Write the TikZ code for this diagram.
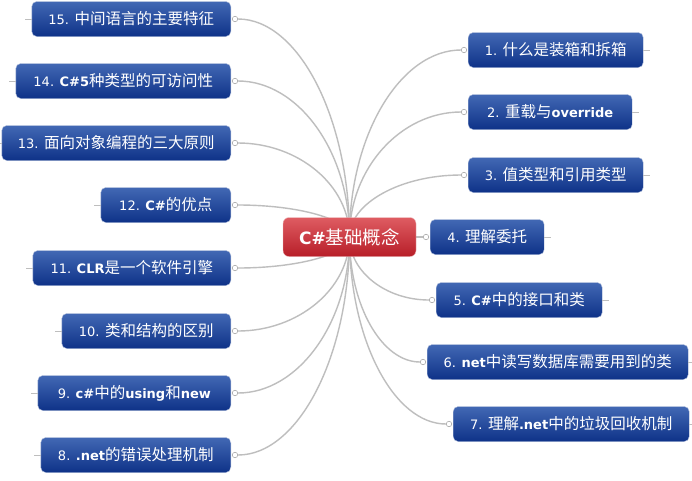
\documentclass[tikz,border=0pt]{standalone}
\usepackage{fontspec}
\setmainfont{DejaVu Sans}
\newfontfamily\cjk{Noto Sans CJK SC}
\usetikzlibrary{backgrounds}
\definecolor{bluetop}{RGB}{66,104,180}
\definecolor{bluemid}{RGB}{16,56,145}
\definecolor{bluebot}{RGB}{14,50,136}
\definecolor{redtop}{RGB}{222,92,98}
\definecolor{redmid}{RGB}{200,36,46}
\definecolor{redbot}{RGB}{184,30,40}
\definecolor{wire}{RGB}{190,190,190}
\newcommand{\zh}[1]{{\cjk\fontsize{15.5}{17}\selectfont #1}}
\newcommand{\en}[1]{\textbf{#1}}
\tikzstyle{topic} = [draw=bluemid!35!white, rounded corners=5pt, top color=bluetop, middle color=bluemid, bottom color=bluebot, text=white, minimum height=35pt, inner sep=0pt, font=\fontsize{13}{15}\selectfont]
\tikzstyle{root} = [draw=redmid!30!white, rounded corners=6pt, top color=redtop, middle color=redmid, bottom color=redbot, text=white, minimum width=133pt, minimum height=39pt, inner sep=0pt, font=\fontsize{17}{19}\selectfont]
\tikzstyle{knob} = [draw=wire!90!black, fill=white, circle, inner sep=0pt, minimum size=5.5pt, line width=0.6pt]
\tikzstyle{branch} = [draw=wire, line width=1.4pt]
\tikzstyle{stub} = [draw=wire, line width=0.6pt]

\begin{document}
\begin{tikzpicture}[x=1pt, y=-1pt]
	\useasboundingbox (0, 0) rectangle (692, 480);
	\node[root](root) at (349.5, 237){\en{C\#}{\cjk\fontsize{18.5}{20}\selectfont 基础概念}};
	\node[topic, anchor=west, minimum width=175pt](n1) at (468, 50){1. \zh{什么是装箱和拆箱}};
	\node[topic, anchor=west, minimum width=164pt](n2) at (468, 112){2. \zh{重载与}\en{override}};
	\node[topic, anchor=west, minimum width=175pt](n3) at (468, 175){3. \zh{值类型和引用类型}};
	\node[topic, anchor=west, minimum width=114pt](n4) at (430, 237){4. \zh{理解委托}};
	\node[topic, anchor=west, minimum width=166pt](n5) at (436, 300){5. \en{C\#}\zh{中的接口和类}};
	\node[topic, anchor=west, minimum width=261pt](n6) at (427, 362){6. \en{net}\zh{中读写数据库需要用到的类}};
	\node[topic, anchor=west, minimum width=236pt](n7) at (453, 424){7. \zh{理解}\en{.net}\zh{中的垃圾回收机制}};
	\node[topic, anchor=east, minimum width=190pt](n8) at (231, 455){8. \en{.net}\zh{的错误处理机制}};
	\node[topic, anchor=east, minimum width=193pt](n9) at (231, 393){9. \en{c\#}\zh{中的}\en{using}\zh{和}\en{new}};
	\node[topic, anchor=east, minimum width=169pt](n10) at (231, 331){10. \zh{类和结构的区别}};
	\node[topic, anchor=east, minimum width=198pt](n11) at (231, 268){11. \en{CLR}\zh{是一个软件引擎}};
	\node[topic, anchor=east, minimum width=130pt](n12) at (231, 205){12. \en{C\#}\zh{的优点}};
	\node[topic, anchor=east, minimum width=229pt](n13) at (231, 143){13. \zh{面向对象编程的三大原则}};
	\node[topic, anchor=east, minimum width=215pt](n14) at (231, 81){14. \en{C\#5}\zh{种类型的可访问性}};
	\node[topic, anchor=east, minimum width=199pt](n15) at (231, 19){15. \zh{中间语言的主要特征}};
	\node[knob](k1) at (464, 50){};
	\node[knob](k2) at (464, 112){};
	\node[knob](k3) at (464, 175){};
	\node[knob](k4) at (426, 237){};
	\node[knob](k5) at (432, 300){};
	\node[knob](k6) at (423, 362){};
	\node[knob](k7) at (449, 424){};
	\node[knob](k8) at (235, 455){};
	\node[knob](k9) at (235, 393){};
	\node[knob](k10) at (235, 331){};
	\node[knob](k11) at (235, 268){};
	\node[knob](k12) at (235, 205){};
	\node[knob](k13) at (235, 143){};
	\node[knob](k14) at (235, 81){};
	\node[knob](k15) at (235, 19){};
	\begin{pgfonlayer}{background}
		\fill[white](0, 0) rectangle (692, 480);
		\draw[branch](root.center) .. controls (349.5, 134) and (401, 50) .. (k1);
		\draw[branch](root.center) .. controls (349.5, 168) and (401, 112) .. (k2);
		\draw[branch](root.center) .. controls (349.5, 203) and (401, 175) .. (k3);
		\draw[branch](root.center) -- (k4);
		\draw[branch](root.center) .. controls (349.5, 272) and (386, 300) .. (k5);
		\draw[branch](root.center) .. controls (349.5, 306) and (382, 362) .. (k6);
		\draw[branch](root.center) .. controls (349.5, 340) and (394, 424) .. (k7);
		\draw[branch](root.center) .. controls (349.5, 357) and (298, 455) .. (k8);
		\draw[branch](root.center) .. controls (349.5, 323) and (298, 393) .. (k9);
		\draw[branch](root.center) .. controls (349.5, 289) and (298, 331) .. (k10);
		\draw[branch](root.center) .. controls (349.5, 254) and (298, 268) .. (k11);
		\draw[branch](root.center) .. controls (349.5, 219) and (298, 205) .. (k12);
		\draw[branch](root.center) .. controls (349.5, 185) and (298, 143) .. (k13);
		\draw[branch](root.center) .. controls (349.5, 151) and (298, 81) .. (k14);
		\draw[branch](root.center) .. controls (349.5, 117) and (298, 19) .. (k15);
	\end{pgfonlayer}
	\draw[stub](n1.east) -- ++(7, 0);
	\draw[stub](n2.east) -- ++(7, 0);
	\draw[stub](n3.east) -- ++(7, 0);
	\draw[stub](n4.east) -- ++(7, 0);
	\draw[stub](n5.east) -- ++(7, 0);
	\draw[stub](n6.east) -- ++(4, 0);
	\draw[stub](n7.east) -- ++(3, 0);
	\draw[stub](n8.west) -- ++(-7, 0);
	\draw[stub](n9.west) -- ++(-7, 0);
	\draw[stub](n10.west) -- ++(-7, 0);
	\draw[stub](n11.west) -- ++(-7, 0);
	\draw[stub](n12.west) -- ++(-7, 0);
	\draw[stub](n13.west) -- ++(-2, 0);
	\draw[stub](n14.west) -- ++(-7, 0);
	\draw[stub](n15.west) -- ++(-7, 0);
\end{tikzpicture}
\end{document}
